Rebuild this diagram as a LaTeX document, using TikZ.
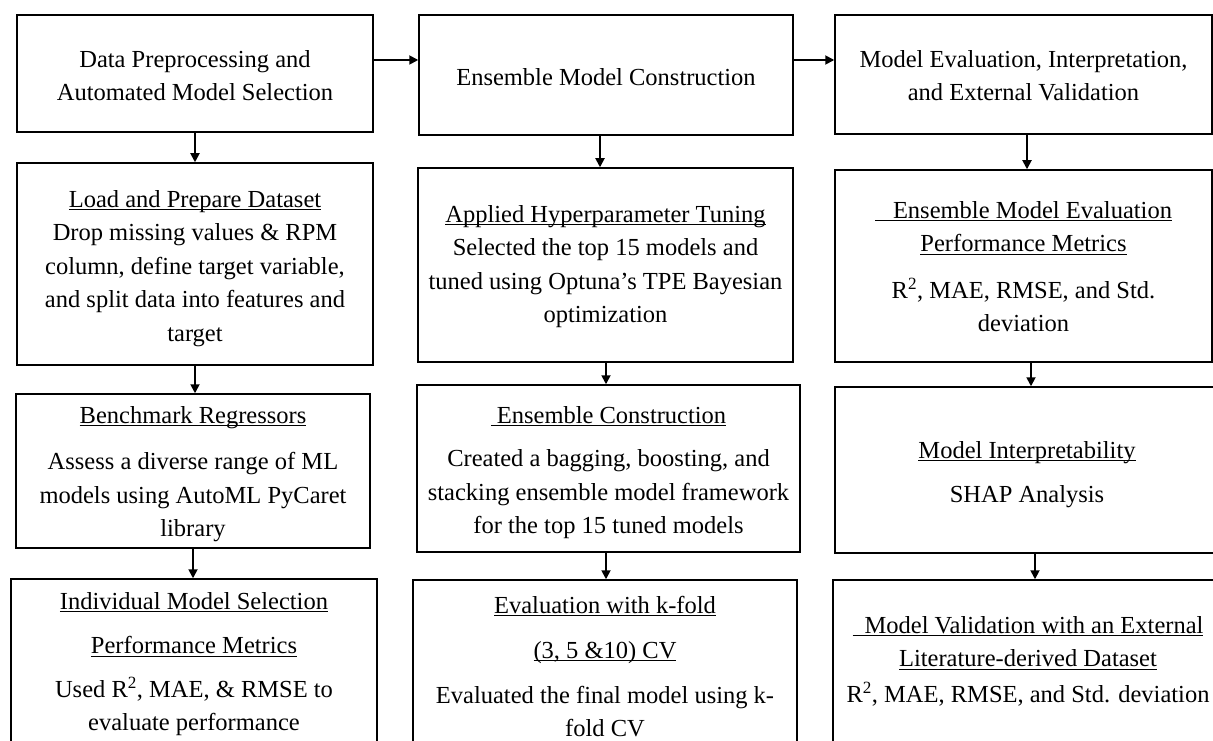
\documentclass[tikz,border=0pt]{standalone}
\usepackage{fontspec}
\setmainfont{Liberation Serif}
\usetikzlibrary{arrows.meta,fit}
\newlength\ulw
\newcommand\myul[1]{\settowidth\ulw{#1}\makebox[0pt][l]{\rule[-3pt]{\ulw}{1.2pt}}#1}
\newcommand\fl{\rule{0pt}{20pt}}
\tikzset{
  box/.style={draw=black, line width=1.5pt, rectangle, inner sep=0pt, fill=none},
  txt/.style={anchor=north, align=center, inner sep=0pt,
    font=\fontsize{24.5}{33.5}\selectfont},
  arr/.style={line width=1.8pt, -{Triangle[length=9pt,width=9pt]}}
}
\begin{document}
\begin{tikzpicture}[x=1pt,y=-1pt]
\clip (0,0) rectangle (1213,741);
\fill[white] (0,0) rectangle (1213,741);
% column 1
\node[box, fit={(17,15) (373,132)}] (A1) {};
\node[box, fit={(17,163) (373,365)}] (A2) {};
\node[box, fit={(16,394) (370,548)}] (A3) {};
\node[box, fit={(11,579) (377,770)}] (A4) {};
% column 2
\node[box, fit={(419,15) (793,135)}] (B1) {};
\node[box, fit={(418,168) (793,362)}] (B2) {};
\node[box, fit={(417,385) (800,552)}] (B3) {};
\node[box, fit={(413,580) (797,770)}] (B4) {};
% column 3
\node[box, fit={(835,15) (1212,134)}] (C1) {};
\node[box, fit={(835,170) (1212,362)}] (C2) {};
\node[box, fit={(835,387) (1222,553)}] (C3) {};
\node[box, fit={(833,580) (1222,770)}] (C4) {};
% texts
\node[txt] (A1t) at (195,47) {\fl Data Preprocessing and\\Automated Model Selection};
\node[txt] (B1t) at (606,65) {\fl Ensemble Model Construction};
\node[txt] (C1t) at (1023.5,47) {\fl Model Evaluation, Interpretation,\\and External Validation};
\node[txt] (A2t) at (195,187) {\fl\myul{Load and Prepare Dataset}\\Drop missing values \& RPM\\column, define target variable,\\and split data into features and\\target};
\node[txt] (B2t) at (605.5,202) {\fl\myul{Applied Hyperparameter Tuning}\\Selected the top 15 models and\\tuned using Optuna's TPE Bayesian\\optimization};
\node[txt] (C2t) at (1023.5,198) {\fl\myul{\hspace{18pt}Ensemble Model Evaluation}\\\myul{Performance Metrics}\\[13pt]R\textsuperscript{2}, MAE, RMSE, and Std.\\deviation};
\node[txt] (A3t) at (193,403) {\fl\myul{Benchmark Regressors}\\[13pt]Assess a diverse range of ML\\models using AutoML PyCaret\\library};
\node[txt] (B3t) at (608.5,403) {\fl\myul{\ Ensemble Construction}\\[10pt]Created a bagging, boosting, and\\stacking ensemble model framework\\for the top 15 tuned models};
\node[txt] (C3t) at (1027,438) {\fl\myul{Model Interpretability}\\[11pt]SHAP Analysis};
\node[txt] (A4t) at (194,589) {\fl\myul{Individual Model Selection}\\[11pt]\myul{Performance Metrics}\\[10pt]Used R\textsuperscript{2}, MAE, \& RMSE to\\evaluate performance};
\node[txt] (B4t) at (605,593) {\fl\myul{Evaluation with k-fold}\\[11.5pt]\myul{(3, 5 \&10) CV}\\[11.5pt]Evaluated the final model using k-\\fold CV};
\node[txt] (C4t) at (1028,613) {\fl\myul{\hspace{12pt}Model Validation with an External}\\\myul{Literature-derived Dataset}\\[2pt]R\textsuperscript{2}, MAE, RMSE, and Std. deviation};
% arrows
\draw[arr] (195,0 |- A1.south) -- (195,0 |- A2.north);
\draw[arr] (195,0 |- A2.south) -- (195,0 |- A3.north);
\draw[arr] (193,0 |- A3.south) -- (193,0 |- A4.north);
\draw[arr] (600,0 |- B1.south) -- (600,0 |- B2.north);
\draw[arr] (606,0 |- B2.south) -- (606,0 |- B3.north);
\draw[arr] (606,0 |- B3.south) -- (606,0 |- B4.north);
\draw[arr] (1027,0 |- C1.south) -- (1027,0 |- C2.north);
\draw[arr] (1031,0 |- C2.south) -- (1031,0 |- C3.north);
\draw[arr] (1035,0 |- C3.south) -- (1035,0 |- C4.north);
\draw[arr] (A1.east |- 0,60) -- (B1.west |- 0,60);
\draw[arr] (B1.east |- 0,60) -- (C1.west |- 0,60);
\end{tikzpicture}
\end{document}
